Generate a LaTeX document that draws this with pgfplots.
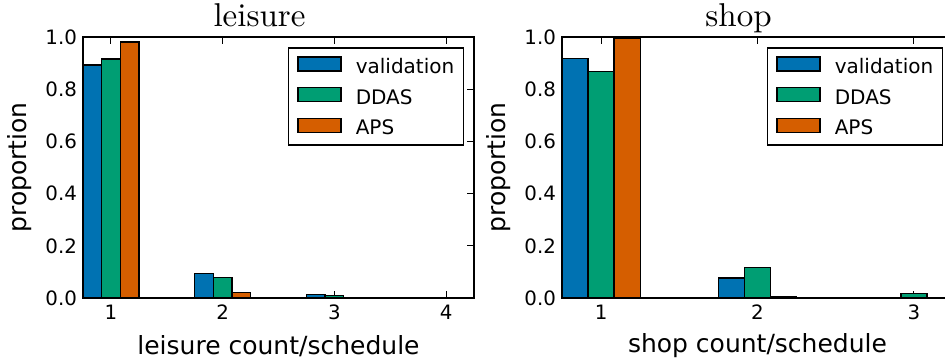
\documentclass[border=0pt]{standalone}
\usepackage{fontspec}
\setmainfont{DejaVu Sans}
\newfontfamily\titlefont{lmroman10-regular}[Extension=.otf]
\usepackage{pgfplots}
\pgfplotsset{compat=1.18}
\definecolor{cbBlue}{HTML}{0072B2}
\definecolor{cbGreen}{HTML}{009E73}
\definecolor{cbOrange}{HTML}{D55E00}
\pgfplotsset{
 mystyle/.style={
  scale only axis, width=391pt, height=261pt,
  anchor=south west,
  ymin=0, ymax=1, ytick={0,0.2,0.4,0.6,0.8,1.0},
  xmin=0.75,
  ybar=0pt, bar width=0.16667,
  axis line style={line width=1.5pt},
  tick align=inside, tick pos=both,
  major tick length=7pt,
  every tick/.style={black, line width=1pt},
  tick label style={font=\fontsize{19.8}{20}\selectfont},
  /pgf/number format/assume math mode=true,
  yticklabel style={xshift=-2.5pt, /pgf/number format/.cd, fixed, fixed zerofill, precision=1},
  xticklabel style={yshift=-3.5pt},
  label style={font=\fontsize{25}{25}\selectfont},
  ylabel style={at={(axis description cs:-0.161,0.5)}, anchor=center},
  xlabel style={at={(axis description cs:0.5,0)}, yshift=-48pt, anchor=center},
  title style={at={(axis description cs:0.5,1)}, anchor=base, yshift=5pt, xshift=-19pt, font=\titlefont\fontsize{33}{33}\selectfont},
  legend style={at={(1,1)}, xshift=-10pt, yshift=-10pt, anchor=north east, draw=black, line width=1.5pt,
     font=\fontsize{20}{20}\selectfont, inner xsep=9pt, inner ysep=8.5pt,
     nodes={inner sep=0pt}, row sep=11.8pt, column sep=14pt},
  legend cell align=left,
  legend image code/.code={\draw[##1, line width=1.3pt] (0pt,-4pt) rectangle (43pt,10pt);},
 }
}
\begin{document}
\begin{tikzpicture}
\begin{axis}[mystyle, at={(83pt,-298pt)}, xmax=4.25, xtick={1,2,3,4},
  title={leisure}, xlabel={leisure count/schedule}, ylabel={proportion}]
\addplot[fill=cbBlue, draw=black, line width=1.3pt] coordinates {(1,0.893) (2,0.095) (3,0.013) (4,0.002)};
\addplot[fill=cbGreen, draw=black, line width=1.3pt] coordinates {(1,0.916) (2,0.079) (3,0.009) (4,0.001)};
\addplot[fill=cbOrange, draw=black, line width=1.3pt] coordinates {(1,0.981) (2,0.020) (3,0.001) (4,0.0)};
\legend{validation, DDAS, APS}
\end{axis}
\begin{axis}[mystyle, at={(562pt,-298pt)}, xmax=3.25, xtick={1,2,3},
  title={shop}, xlabel={shop count/schedule}, ylabel={proportion}]
\addplot[fill=cbBlue, draw=black, line width=1.3pt] coordinates {(1,0.917) (2,0.077) (3,0.003)};
\addplot[fill=cbGreen, draw=black, line width=1.3pt] coordinates {(1,0.869) (2,0.116) (3,0.018)};
\addplot[fill=cbOrange, draw=black, line width=1.3pt] coordinates {(1,0.995) (2,0.004) (3,0.0)};
\legend{validation, DDAS, APS}
\end{axis}
\pgfresetboundingbox
\useasboundingbox (0pt,0pt) rectangle (945pt,-362pt);
\end{tikzpicture}
\end{document}
